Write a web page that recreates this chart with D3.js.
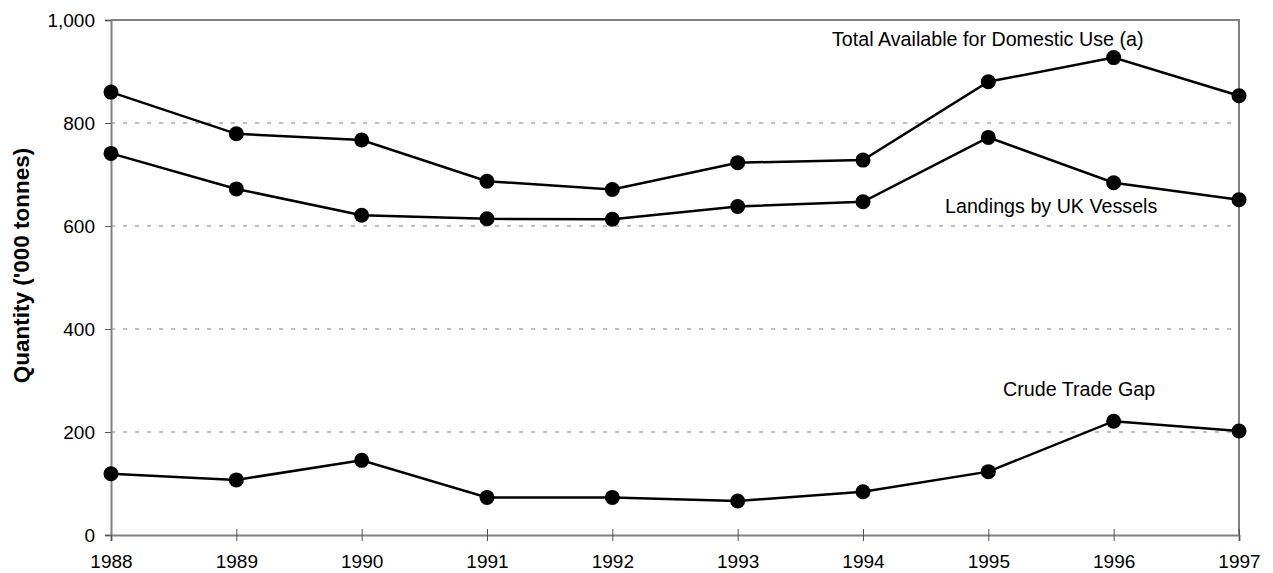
<!DOCTYPE html>
<html>
<head>
<meta charset="utf-8">
<script src="https://cdn.jsdelivr.net/npm/d3@7"></script>
<style>
    body { margin: 0; background: #fff; }
    text { font-family: "Liberation Sans", Arial, sans-serif; fill: #000; }
</style>
</head>
<body>
<script>
"use strict";
(function(){
    // chart data
    const years = [1988, 1989, 1990, 1991, 1992, 1993, 1994, 1995, 1996, 1997];
    const totalAvailable = [860, 779, 767, 687, 671, 723, 728, 880, 927, 853];
    const landings = [741, 672, 621, 614, 613, 638, 647, 772, 684, 651];
    const crudeTradeGap = [119, 107, 145, 73, 73, 66, 84, 123, 221, 202];
    const yTicks = [0, 200, 400, 600, 800, 1000];

    const seriesNames = ["Total Available for Domestic Use (a)", "Landings by UK Vessels", "Crude Trade Gap"];
    const seriesValues = [totalAvailable, landings, crudeTradeGap];

    const measurements = {
        width: 1273,
        height: 573,
        left: 111,
        right: 1239,
        top: 20,
        bottom: 535
    }

    const svgContainer = d3.select('body').append('svg')
        .attr('width', measurements.width)
        .attr('height', measurements.height);

    const scaleX = d3.scaleLinear()
        .domain([years[0], years[years.length - 1]])
        .range([measurements.left, measurements.right]);

    const scaleY = d3.scaleLinear()
        .domain([0, 1000])
        .range([measurements.bottom, measurements.top]);

    // dashed gridlines
    svgContainer.append('g')
        .selectAll('line')
        .data(yTicks.filter(d => d > 0 && d < 1000))
        .enter()
        .append('line')
            .attr('x1', measurements.left)
            .attr('x2', measurements.right)
            .attr('y1', d => scaleY(d))
            .attr('y2', d => scaleY(d))
            .attr('stroke', '#808080')
            .attr('stroke-width', 1)
            .attr('stroke-dasharray', '4,8');

    // frame top + right
    svgContainer.append('path')
        .attr('d', `M${measurements.left},${measurements.top}H${measurements.right}V${measurements.bottom}`)
        .attr('fill', 'none')
        .attr('stroke', '#808080')
        .attr('stroke-width', 2);

    // axes
    const yAxis = d3.axisLeft(scaleY)
        .tickValues(yTicks)
        .tickSize(6)
        .tickPadding(10)
        .tickFormat(d3.format(','));

    const xAxis = d3.axisBottom(scaleX)
        .tickValues(years)
        .tickSize(6)
        .tickPadding(14)
        .tickFormat(d3.format('d'));

    const gy = svgContainer.append('g')
        .attr('transform', `translate(${measurements.left},0)`)
        .call(yAxis);

    const gx = svgContainer.append('g')
        .attr('transform', `translate(0,${measurements.bottom})`)
        .call(xAxis);

    [gx, gy].forEach(g => {
        g.select('.domain').attr('stroke', '#808080').attr('stroke-width', 2);
        g.selectAll('.tick line').attr('stroke', '#555').attr('stroke-width', 1);
        g.selectAll('.tick text')
            .style('font-size', '19px')
            .style('font-family', '"Liberation Sans", Arial, sans-serif');
    });
    // inner x ticks cross the axis
    gx.selectAll('.tick line').attr('y1', (d, i) => (i === 0 ? 0 : -6)).attr('y2', 6);

    // lines + markers
    const line = d3.line()
        .x((d, i) => scaleX(years[i]))
        .y(d => scaleY(d));

    seriesValues.forEach(values => {
        svgContainer.append('path')
            .datum(values)
            .attr('d', line)
            .attr('fill', 'none')
            .attr('stroke', '#000')
            .attr('stroke-width', 2.5);

        svgContainer.append('g')
            .selectAll('circle')
            .data(values)
            .enter()
            .append('circle')
                .attr('cx', (d, i) => scaleX(years[i]))
                .attr('cy', d => scaleY(d))
                .attr('r', 7.5)
                .attr('fill', '#000');
    });

    // series labels
    const labelPos = [
        { x: 832, y: 46 },
        { x: 945, y: 213 },
        { x: 1003, y: 396 }
    ];
    seriesNames.forEach((name, i) => {
        svgContainer.append('text')
            .attr('x', labelPos[i].x)
            .attr('y', labelPos[i].y)
            .style('font-size', '19.7px')
            .text(name);
    });

    // y axis title
    svgContainer.append('text')
        .attr('transform', 'translate(28.5, 265.5)rotate(-90)')
        .attr('text-anchor', 'middle')
        .style('font-size', '22.5px')
        .style('font-weight', 'bold')
        .text("Quantity ('000 tonnes)");
})()
</script>
</body>
</html>
